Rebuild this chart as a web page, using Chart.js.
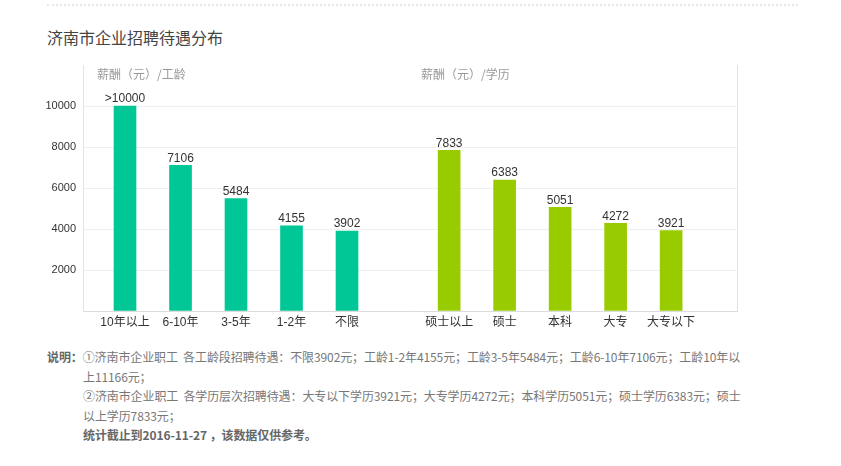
<!DOCTYPE html>
<html>
<head>
<meta charset="utf-8">
<script src="https://cdn.jsdelivr.net/npm/chart.js@4/dist/chart.umd.min.js"></script>
<style>
  body { margin: 0; background: #fff; width: 841px; height: 466px; overflow: hidden; position: relative;
         font-family: "Noto Sans CJK SC", "Liberation Sans", sans-serif; }
  .topline { position: absolute; left: 47px; top: 4px; width: 751px; border-top: 2px dotted #e6e6e6; }
  .title { position: absolute; left: 47px; top: 26px; font-size: 16px; color: #444; line-height: 22px; }
  .sub { position: absolute; top: 66px; font-size: 12px; color: #999; line-height: 16px; }
  #wrap { position: absolute; left: 0; top: 0; width: 841px; height: 340px; }
  .notes { position: absolute; left: 47px; top: 347px; font-size: 12px; color: #777; line-height: 19.5px; white-space: nowrap; letter-spacing: -0.1px; }
  .notes b { color: #666; }
  .notes .in { padding-left: 36px; }
</style>
</head>
<body>
<div class="topline"></div>
<div class="title">济南市企业招聘待遇分布</div>
<div id="wrap"><canvas id="c" width="841" height="340"></canvas></div>
<div class="sub" style="left:97px">薪酬（元）/工龄</div>
<div class="sub" style="left:421px">薪酬（元）/学历</div>
<div class="notes">
  <div><b>说明：</b>①济南市企业职工&nbsp; 各工龄段招聘待遇：不限3902元；工龄1-2年4155元；工龄3-5年5484元；工龄6-10年7106元；工龄10年以</div>
  <div class="in">上11166元；</div>
  <div class="in">②济南市企业职工&nbsp; 各学历层次招聘待遇：大专以下学历3921元；大专学历4272元；本科学历5051元；硕士学历6383元；硕士</div>
  <div class="in">以上学历7833元；</div>
  <div class="in"><b>统计截止到2016-11-27 ，该数据仅供参考。</b></div>
</div>
<script>
const ageLabels = ["10年以上", "6-10年", "3-5年", "1-2年", "不限"];
const ageValues = [10000, 7106, 5484, 4155, 3902];
const eduLabels = ["硕士以上", "硕士", "本科", "大专", "大专以下"];
const eduValues = [7833, 6383, 5051, 4272, 3921];
const yTicks = [2000, 4000, 6000, 8000, 10000];

// gap between the two groups, in category units
const eduStart = 5.84;
const agePos = ageLabels.map((l, i) => i);
const eduPos = eduLabels.map((l, i) => eduStart + i);
const allPos = agePos.concat(eduPos);
const allLabels = ageLabels.concat(eduLabels);

const fontFam = "'Liberation Sans', 'Noto Sans CJK SC', sans-serif";

const valueLabels = {
  id: "valueLabels",
  afterDatasetsDraw(chart) {
    const ctx = chart.ctx;
    ctx.save();
    ctx.font = "12px " + fontFam;
    ctx.fillStyle = "#333";
    ctx.textAlign = "center";
    ctx.textBaseline = "bottom";
    chart.data.datasets.forEach((ds, di) => {
      chart.getDatasetMeta(di).data.forEach((bar, i) => {
        const v = ds.data[i].y;
        ctx.fillText(v >= 10000 ? ">" + v : String(v), bar.x, bar.y - 1);
      });
    });
    ctx.restore();
  }
};

const rightBorder = {
  id: "rightBorder",
  afterDraw(chart) {
    const a = chart.chartArea;
    const ctx = chart.ctx;
    ctx.save();
    ctx.strokeStyle = "#e3e3e3";
    ctx.lineWidth = 1;
    ctx.beginPath();
    ctx.moveTo(a.right + 0.5, a.top);
    ctx.lineTo(a.right + 0.5, a.bottom);
    ctx.stroke();
    ctx.restore();
  }
};

new Chart(document.getElementById("c").getContext("2d"), {
  type: "bar",
  data: {
    datasets: [
      {
        label: "工龄",
        data: ageValues.map((v, i) => ({ x: agePos[i], y: v })),
        backgroundColor: "#00c795",
        barThickness: 22,
        grouped: false,
      },
      {
        label: "学历",
        data: eduValues.map((v, i) => ({ x: eduPos[i], y: v })),
        backgroundColor: "#99cc00",
        barThickness: 22,
        grouped: false,
      },
    ],
  },
  options: {
    responsive: false,
    animation: false,
    layout: { padding: { left: 0, right: 104, top: 65, bottom: 0 } },
    plugins: { legend: { display: false }, tooltip: { enabled: false } },
    scales: {
      x: {
        type: "linear",
        offset: false,
        min: -0.757,
        max: 11.027,
        afterBuildTicks: (axis) => { axis.ticks = allPos.map((p) => ({ value: p })); },
        afterFit: (axis) => { axis.height = 29; },
        grid: { display: false, drawTicks: false, offset: false },
        border: { color: "#dcdcdc" },
        ticks: {
          autoSkip: false,
          maxRotation: 0,
          padding: 4,
          color: "#333",
          font: { size: 12, family: fontFam },
          callback: (v, i) => allLabels[i],
        },
      },
      y: {
        min: 0,
        max: 12000,
        afterBuildTicks: (axis) => { axis.ticks = [0].concat(yTicks, [12000]).map((v) => ({ value: v })); },
        afterFit: (axis) => { axis.width = 83; },
        grid: {
          drawTicks: false,
          color: (c) => (yTicks.includes(c.tick.value) ? "#efefef" : "rgba(0,0,0,0)"),
        },
        border: { color: "#e3e3e3" },
        ticks: {
          padding: 7,
          color: "#333",
          font: { size: 11, family: fontFam },
          callback: (v) => (yTicks.includes(v) ? String(v) : ""),
        },
      },
    },
  },
  plugins: [valueLabels, rightBorder],
});
</script>
</body>
</html>
